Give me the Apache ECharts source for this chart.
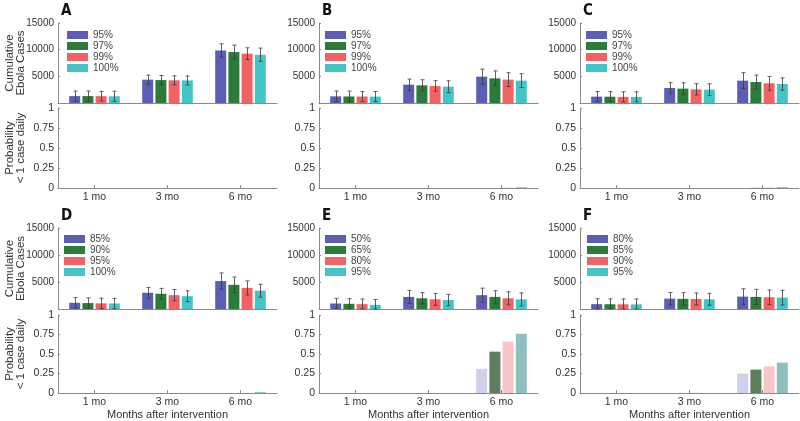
<!DOCTYPE html>
<html><head><meta charset="utf-8">
<script src="https://cdn.jsdelivr.net/npm/echarts@6/dist/echarts.min.js"></script>
<style>html,body{margin:0;padding:0;background:#fff}#c{width:800px;height:421px}</style>
</head><body><div id="c"></div>
<script>
// ---------------- DATA ----------------
const categories = ['1 mo', '3 mo', '6 mo'];
const panelLetters = ['A', 'B', 'C', 'D', 'E', 'F'];

const legendA = ['95%', '97%', '99%', '100%'];
const legendB = ['95%', '97%', '99%', '100%'];
const legendC = ['95%', '97%', '99%', '100%'];
const legendD = ['85%', '90%', '95%', '100%'];
const legendE = ['50%', '65%', '80%', '95%'];
const legendF = ['80%', '85%', '90%', '95%'];

// cumulative Ebola cases, one row per legend entry, columns = categories
const casesA = [[1300, 4380, 9850], [1300, 4300, 9550], [1280, 4250, 9250], [1260, 4230, 9050]];
const casesB = [[1250, 3440, 4940], [1230, 3310, 4620], [1220, 3190, 4380], [1200, 3060, 4190]];
const casesC = [[1200, 2810, 4190], [1180, 2690, 3940], [1150, 2560, 3690], [1150, 2500, 3560]];
const casesD = [[1150, 3000, 5180], [1100, 2820, 4480], [1050, 2560, 3900], [1020, 2370, 3390]];
const casesE = [[1020, 2240, 2560], [960, 1980, 2240], [900, 1790, 1980], [770, 1660, 1790]];
const casesF = [[900, 1920, 2300], [880, 1880, 2240], [870, 1860, 2180], [860, 1800, 2110]];

// error (+/-) on cumulative cases
const errA = [[950, 850, 1250], [950, 850, 1300], [900, 850, 1100], [950, 850, 1250]];
const errB = [[1000, 1050, 1400], [1000, 1050, 1400], [950, 1000, 1300], [950, 1100, 1300]];
const errC = [[950, 1000, 1500], [950, 1100, 1300], [950, 1050, 1300], [950, 1100, 1150]];
const errD = [[950, 1000, 1500], [950, 1000, 1450], [950, 1050, 1300], [950, 1000, 1200]];
const errE = [[950, 1200, 1300], [950, 1050, 1150], [950, 1100, 1200], [1000, 1050, 1200]];
const errF = [[1000, 1150, 1450], [1000, 1150, 1400], [1000, 1100, 1350], [1000, 1100, 1350]];

// probability of < 1 case daily
const probA = [[0, 0, 0], [0, 0, 0], [0, 0, 0], [0, 0, 0]];
const probB = [[0, 0, 0], [0, 0, 0], [0, 0, 0.005], [0, 0, 0.01]];
const probC = [[0, 0, 0], [0, 0, 0.002], [0, 0, 0.008], [0, 0, 0.012]];
const probD = [[0, 0, 0], [0, 0, 0], [0, 0, 0.003], [0, 0, 0.012]];
const probE = [[0, 0, 0.31], [0, 0, 0.53], [0, 0, 0.66], [0, 0, 0.76]];
const probF = [[0, 0, 0.25], [0, 0, 0.30], [0, 0.003, 0.34], [0, 0, 0.39]];

const topTicks = [0, 5000, 10000, 15000];
const probTicks = [0, 0.25, 0.5, 0.75, 1];

// ---------------- STYLE / LAYOUT ----------------
const topColors = ['#5b5eb2', '#2b7b3b', '#f06264', '#44c4c4'];
const probColors = ['#cfd0ec', '#5e7e5f', '#f7c6c8', '#8fc0bf'];
const FONT = 'Liberation Sans, Arial, sans-serif';
const BAR_W = 11, BAR_GAP = 0.2, BAR_STEP = BAR_W * (1 + BAR_GAP);

const colLeft = [58, 319, 580];
const gridW = 219;
const rowGeom = [
  { top: { t: 23, h: 80 }, bot: { t: 108, h: 80 }, letterTop: 4, legendTop: 30 },
  { top: { t: 228, h: 81 }, bot: { t: 315, h: 79 }, letterTop: 209, legendTop: 234 }
];
const legendLeft = [67, 325, 586, 64, 325, 587];

const panels = [
  { legend: legendA, cases: casesA, err: errA, prob: probA },
  { legend: legendB, cases: casesB, err: errB, prob: probB },
  { legend: legendC, cases: casesC, err: errC, prob: probC },
  { legend: legendD, cases: casesD, err: errD, prob: probD },
  { legend: legendE, cases: casesE, err: errE, prob: probE },
  { legend: legendF, cases: casesF, err: errF, prob: probF }
];

const axisLineStyle = { color: '#8a8a8a', width: 1 };
const labelStyle = { fontSize: 10.5, color: '#333', fontFamily: FONT };

const grid = [], xAxis = [], yAxis = [], series = [], legend = [], title = [];

function renderErr(params, api) {
  const c = api.value(0), s = api.value(1), v = api.value(2), e = api.value(3);
  const lo = api.coord([c, Math.max(0, v - e)]);
  const hi = api.coord([c, v + e]);
  const x = Math.round(lo[0] + (s - 1.5) * BAR_STEP) + 0.5;
  const cap = 2;
  const st = { stroke: '#3a3a3a', lineWidth: 0.8 };
  return {
    type: 'group', children: [
      { type: 'line', shape: { x1: x, y1: lo[1], x2: x, y2: hi[1] }, style: st },
      { type: 'line', shape: { x1: x - cap, y1: hi[1], x2: x + cap, y2: hi[1] }, style: st },
      { type: 'line', shape: { x1: x - cap, y1: lo[1], x2: x + cap, y2: lo[1] }, style: st }
    ]
  };
}

panels.forEach((p, i) => {
  const row = Math.floor(i / 3), col = i % 3;
  const g = rowGeom[row];
  const left = colLeft[col];
  const gTop = grid.length, gBot = grid.length + 1;
  grid.push({ left: left, top: g.top.t, width: gridW, height: g.top.h });
  grid.push({ left: left, top: g.bot.t, width: gridW, height: g.bot.h });

  // top chart axes
  xAxis.push({
    type: 'category', gridIndex: gTop, data: categories,
    axisLine: { lineStyle: axisLineStyle }, axisTick: { show: false }, axisLabel: { show: false }
  });
  yAxis.push({
    type: 'value', gridIndex: gTop, min: topTicks[0], max: topTicks[topTicks.length - 1], interval: topTicks[1] - topTicks[0],
    axisLine: { show: true, lineStyle: axisLineStyle },
    axisTick: { show: true, inside: true, length: 2, lineStyle: axisLineStyle },
    splitLine: { show: false },
    axisLabel: Object.assign({ margin: 4, formatter: v => (v === 0 ? '' : String(v)) }, labelStyle, { fontSize: 10 }),
    name: col === 0 ? 'Cumulative\nEbola Cases' : '',
    nameLocation: 'middle', nameRotate: 90, nameGap: 32, nameMoveOverlap: false,
    nameTextStyle: { fontSize: 11.5, color: '#333', fontFamily: FONT, lineHeight: 11 }
  });
  // bottom chart axes
  const bottomRow = row === 1;
  xAxis.push({
    type: 'category', gridIndex: gBot, data: categories,
    axisLine: { lineStyle: axisLineStyle },
    axisTick: { show: true, inside: true, length: 3, alignWithLabel: true, lineStyle: axisLineStyle },
    axisLabel: Object.assign({ margin: 4 }, labelStyle),
    name: bottomRow ? 'Months after intervention' : '',
    nameLocation: 'middle', nameGap: 16, nameMoveOverlap: false,
    nameTextStyle: { fontSize: 11, color: '#333', fontFamily: FONT }
  });
  yAxis.push({
    type: 'value', gridIndex: gBot, min: probTicks[0], max: probTicks[probTicks.length - 1], interval: probTicks[1] - probTicks[0],
    axisLine: { show: true, lineStyle: axisLineStyle },
    axisTick: { show: true, inside: true, length: 2, lineStyle: axisLineStyle },
    splitLine: { show: false },
    axisLabel: Object.assign({ margin: 4 }, labelStyle, { fontSize: 10.5 }),
    name: col === 0 ? 'Probability\n< 1 case daily' : '',
    nameLocation: 'middle', nameRotate: 90, nameGap: 32, nameMoveOverlap: false,
    nameTextStyle: { fontSize: 11.5, color: '#333', fontFamily: FONT, lineHeight: 11 }
  });

  const names = [];
  const errRows = [];
  p.legend.forEach((lab, s) => {
    const nm = panelLetters[i] + ' ' + lab;
    names.push(nm);
    series.push({
      type: 'bar', name: nm, xAxisIndex: gTop, yAxisIndex: gTop,
      data: p.cases[s], barWidth: BAR_W, barGap: (BAR_GAP * 100) + '%',
      itemStyle: { color: topColors[s] }, silent: true
    });
    p.cases[s].forEach((v, c) => errRows.push([c, s, v, p.err[s][c]]));
  });
  series.push({
    type: 'custom', name: panelLetters[i] + ' err', xAxisIndex: gTop, yAxisIndex: gTop,
    data: errRows, renderItem: renderErr, encode: { x: 0, y: 2 }, z: 5, silent: true, clip: false
  });
  p.legend.forEach((lab, s) => {
    series.push({
      type: 'bar', name: panelLetters[i] + ' p' + s, xAxisIndex: gBot, yAxisIndex: gBot,
      data: p.prob[s], barWidth: BAR_W, barGap: (BAR_GAP * 100) + '%',
      itemStyle: { color: probColors[s] }, silent: true
    });
  });

  legend.push({
    data: names, orient: 'vertical', left: legendLeft[i], top: g.legendTop,
    itemWidth: 21, itemHeight: 8, itemGap: 1, padding: 0, icon: 'rect',
    selectedMode: false,
    formatter: n => n.split(' ')[1],
    textStyle: { fontSize: 10, color: '#444', fontFamily: FONT, lineHeight: 10 }
  });

  title.push({
    text: panelLetters[i], left: left + 3, top: g.letterTop, padding: 0,
    textStyle: { fontSize: 15, fontWeight: 'bold', color: '#111', fontFamily: 'Liberation Sans Narrow, DejaVu Sans Condensed, sans-serif' }
  });
});

const chart = echarts.init(document.getElementById('c'), null, { renderer: 'canvas' });
chart.setOption({
  animation: false,
  backgroundColor: '#fff',
  textStyle: { fontFamily: FONT },
  title, grid, xAxis, yAxis, series, legend
});
</script>
</body></html>
